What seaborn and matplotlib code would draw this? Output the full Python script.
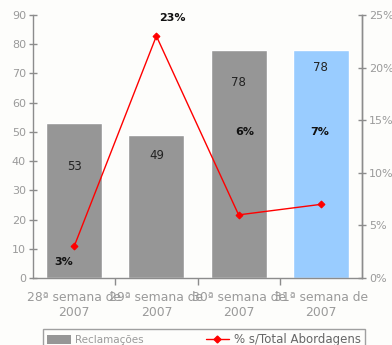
import matplotlib
matplotlib.use("Agg")
import matplotlib.pyplot as plt
from matplotlib.patches import Patch
from matplotlib.lines import Line2D
from matplotlib.ticker import MultipleLocator, FuncFormatter
import seaborn as sns
import pandas as pd

# Weekly data
categories = ["28ª semana de\n2007", "29ª semana de\n2007", "30ª semana de\n2007", "31ª semana de\n2007"]
reclamacoes = [53, 49, 78, 78]
pct_abordagens = [0.03, 0.23, 0.06, 0.07]
pct_labels = ["3%", "23%", "6%", "7%"]

# Styling
bar_colors = ["#969696", "#969696", "#969696", "#99CCFF"]
bg = "#FDFDFB"
axis_gray = "#8C8C8C"
text_gray = "#9A9A9A"
count_label_drop = [14.7, 7.0, 11.0, 6.0]          # how far below bar top the count sits
pct_label_pos = [(-0.13, 0.015), (1.2, 0.247), (2.08, 0.139), (2.99, 0.139)]

sns.set_theme(style="white")
plt.rcParams["font.family"] = ["DejaVu Sans"]

fig = plt.figure(figsize=(3.92, 3.45), dpi=100, facecolor=bg)
ax = fig.add_axes([33 / 392, 1 - 278 / 345, 329 / 392, 263 / 345])
ax.set_facecolor(bg)

df = pd.DataFrame({"semana": categories, "reclamacoes": reclamacoes})
sns.barplot(data=df, x="semana", y="reclamacoes", hue="semana", palette=bar_colors,
            legend=False, width=0.68, saturation=1, ax=ax)

ax.set_xlim(-0.5, 3.5)
ax.set_ylim(0, 90)
ax.yaxis.set_major_locator(MultipleLocator(10))
ax.set_xlabel("")
ax.set_ylabel("")
ax.set_xticks([])
ax.set_xticks([0.5, 1.5, 2.5], minor=True)
for xi, lab in enumerate(categories):
    ax.text(xi, -4.6, lab, ha="center", va="top", fontsize=8.9, color=text_gray,
            linespacing=1.2)

ax.spines["top"].set_visible(False)
for s in ["left", "right", "bottom"]:
    ax.spines[s].set_color(axis_gray)
    ax.spines[s].set_linewidth(1.0)
ax.tick_params(axis="y", which="major", direction="inout", length=6, width=1,
               color=axis_gray, labelcolor=text_gray, labelsize=8, pad=2, left=True)
ax.tick_params(axis="x", which="minor", direction="out", length=5, width=1,
               color=axis_gray, bottom=True)

for xi, (v, d) in enumerate(zip(reclamacoes, count_label_drop)):
    ax.text(xi, v - d, str(v), ha="center", va="center", fontsize=8.5, color="#222222")

ax2 = ax.twinx()
ax2.set_ylim(0, 0.25)
ax2.yaxis.set_major_locator(MultipleLocator(0.05))
ax2.yaxis.set_major_formatter(FuncFormatter(lambda v, _: f"{v * 100:.0f}%"))
sns.lineplot(x=list(range(len(pct_abordagens))), y=pct_abordagens, ax=ax2, color="#FF0000",
             linewidth=1.0, marker="D", markersize=3.5, markeredgecolor="#FF0000")
ax2.set_ylabel("")
ax2.grid(False)
for s in ["top", "left", "bottom"]:
    ax2.spines[s].set_visible(False)
ax2.spines["right"].set_color(axis_gray)
ax2.spines["right"].set_linewidth(1.0)
ax2.tick_params(axis="y", direction="inout", length=6, width=1, color=axis_gray,
                labelcolor=text_gray, labelsize=8, pad=2, right=True)

for (px, py), lab in zip(pct_label_pos, pct_labels):
    ax2.text(px, py, lab, ha="center", va="center", fontsize=8, fontweight="bold",
             color="#111111")

handles = [
    Patch(facecolor="#969696", edgecolor="none", label="Reclamações"),
    Line2D([0], [0], color="#FF0000", linewidth=1.0, marker="D", markersize=3.5,
           label="% s/Total Abordagens"),
]
leg = fig.legend(handles=handles, loc="upper left", ncol=2, mode="expand",
                 bbox_to_anchor=(43 / 392, 0.0, 322 / 392, 1 - 329 / 345),
                 frameon=True, fancybox=False, framealpha=1, edgecolor="#A0A0A0",
                 facecolor=bg, fontsize=8.5, handlelength=2.0, handleheight=0.8,
                 handletextpad=0.4, borderpad=0.35, labelcolor=text_gray,
                 borderaxespad=0)
leg.get_frame().set_linewidth(1.0)
leg.get_texts()[0].set_fontsize(7.5)
leg.get_texts()[1].set_color("#666666")

fig.savefig("out.png", dpi=100, facecolor=bg)
